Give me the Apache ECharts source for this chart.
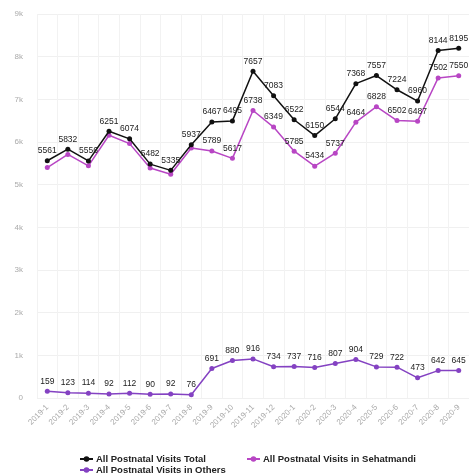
<!DOCTYPE html>
<html>
<head>
<meta charset="utf-8">
<script src="https://cdn.jsdelivr.net/npm/echarts@6/dist/echarts.min.js"></script>
<style>
  html, body { margin: 0; padding: 0; background: #fff; }
  #chart { width: 469px; height: 475px; }
</style>
</head>
<body>
<div id="chart"></div>
<script>
// Monthly reporting periods
const months = [
  '2019-1', '2019-2', '2019-3', '2019-4', '2019-5', '2019-6', '2019-7',
  '2019-8', '2019-9', '2019-10', '2019-11', '2019-12', '2020-1', '2020-2',
  '2020-3', '2020-4', '2020-5', '2020-6', '2020-7', '2020-8', '2020-9'
];

// Postnatal visit counts
const totalVisits = [5561, 5832, 5556, 6251, 6074, 5482, 5335, 5937, 6467, 6495, 7657,
  7083, 6522, 6150, 6544, 7368, 7557, 7224, 6960, 8144, 8195];
const sehatmandiVisits = [5402, 5709, 5442, 6159, 5962, 5392, 5243, 5861, 5789, 5617, 6738,
  6349, 5785, 5434, 5737, 6464, 6828, 6502, 6487, 7502, 7550];
const otherVisits = [159, 123, 114, 92, 112, 90, 92, 76, 691, 880, 916,
  734, 737, 716, 807, 904, 729, 722, 473, 642, 645];

// Value axis ticks
const yMin = 0;
const yMax = 9000;
const yStep = 1000;

const chart = echarts.init(document.getElementById('chart'), null, { renderer: 'canvas' });

const labelStyle = { show: true, position: 'top', distance: 3, fontSize: 8.5, color: '#222', fontFamily: 'Liberation Sans, Arial, sans-serif' };

function lineSeries(name, data, color, z) {
  return {
    name: name,
    type: 'line',
    data: data,
    symbol: 'circle',
    symbolSize: 5,
    z: z,
    lineStyle: { width: 1.5, color: color },
    itemStyle: { color: color },
    label: labelStyle,
    labelLayout: { hideOverlap: true }
  };
}

const legendText = { fontSize: 9.5, color: '#222', fontWeight: 'bold', padding: [0, 0, 0, -2] };

chart.setOption({
  animation: false,
  textStyle: { fontFamily: 'Liberation Sans, Arial, sans-serif' },
  grid: { left: 37, top: 14, width: 441, bottom: 77, containLabel: false },
  legend: [
    {
      data: ['All Postnatal Visits Total', 'All Postnatal Visits in Sehatmandi'],
      left: 74, top: 449, itemGap: 40, itemWidth: 13, itemHeight: 7,
      textStyle: legendText
    },
    {
      data: ['All Postnatal Visits in Others'],
      left: 74, top: 460, itemWidth: 13, itemHeight: 7,
      textStyle: legendText
    }
  ],
  xAxis: {
    type: 'category',
    data: months,
    boundaryGap: true,
    axisLine: { show: false },
    axisTick: { show: false },
    splitLine: { show: true, lineStyle: { color: '#f2f2f2', width: 1 } },
    axisLabel: { rotate: 45, fontSize: 8, color: '#aaa', margin: 8, interval: 0 }
  },
  yAxis: {
    type: 'value',
    min: yMin, max: yMax, interval: yStep,
    axisLine: { show: false },
    axisTick: { show: false },
    splitLine: { show: true, lineStyle: { color: '#f0f0f0', width: 1 } },
    axisLabel: {
      fontSize: 8, color: '#aaa', margin: 14,
      formatter: v => (v === 0 ? '0' : (v / 1000) + 'k')
    }
  },
  series: [
    lineSeries('All Postnatal Visits Total', totalVisits, '#111111', 4),
    lineSeries('All Postnatal Visits in Sehatmandi', sehatmandiVisits, '#b846c4', 3),
    lineSeries('All Postnatal Visits in Others', otherVisits, '#8442c2', 2)
  ]
});
</script>
</body>
</html>
